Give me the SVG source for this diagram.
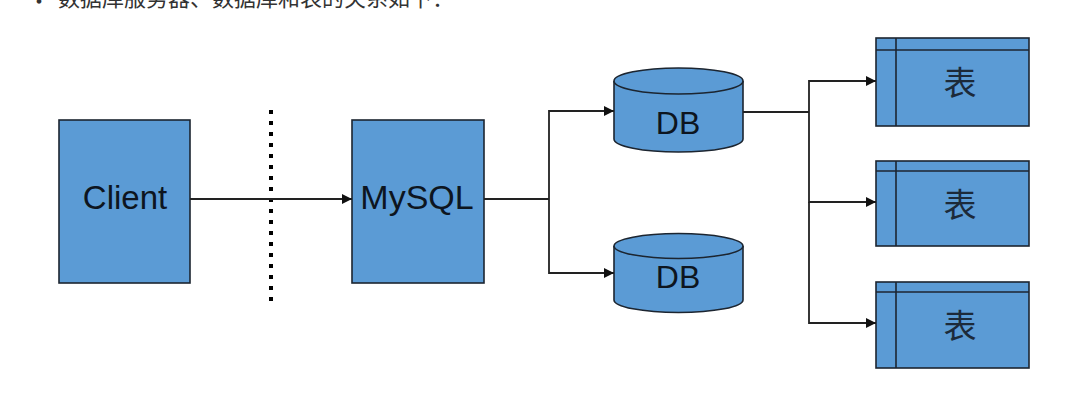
<svg xmlns="http://www.w3.org/2000/svg" width="1065" height="405" viewBox="0 0 1065 405">
<style>
.box{fill:#5b9bd5;stroke:#1c2530;stroke-width:1.6}
.lbl{font-family:"Liberation Sans",Arial,sans-serif;fill:#0d1520;text-anchor:middle}
.cjk{font-family:"Noto Sans CJK SC",sans-serif;fill:#1c2a3a;text-anchor:middle;font-size:33px}
.con{fill:none;stroke:#222;stroke-width:1.8}
.top{font-family:"Noto Sans CJK SC",sans-serif;font-size:22px;fill:#333}
</style>
<defs>
<marker id="arr" viewBox="0 0 10 10" refX="10" refY="5" markerWidth="11" markerHeight="10" markerUnits="userSpaceOnUse" orient="auto">
<path d="M0,0 L10,5 L0,10 z" fill="#111"/>
</marker>
</defs>
<text class="top" x="28" y="9">•</text>
<text class="top" x="58" y="6">数据库服务器、数据库和表的关系如下：</text>

<g id="divider"><line x1="271" y1="110" x2="271" y2="302" stroke="#000" stroke-width="4" stroke-dasharray="4 7"/></g>

<g id="client"><rect class="box" x="59" y="120" width="131" height="163"/><text class="lbl" x="125" y="209" font-size="33">Client</text></g>
<g id="mysql"><rect class="box" x="352" y="120" width="132" height="163"/><text class="lbl" x="417" y="209" font-size="34">MySQL</text></g>

<g id="db1">
<path class="box" d="M614,81 L614,139 A64.5,13 0 0 0 743,139 L743,81"/>
<ellipse class="box" cx="678.5" cy="81" rx="64.5" ry="13"/>
<text class="lbl" x="678" y="134" font-size="32">DB</text>
</g>
<g id="db2">
<path class="box" d="M614,246 L614,300 A64.5,12.5 0 0 0 743,300 L743,246"/>
<ellipse class="box" cx="678.5" cy="246" rx="64.5" ry="12.5"/>
<text class="lbl" x="678" y="288" font-size="32">DB</text>
</g>

<g id="table1"><rect class="box" x="876" y="38" width="153" height="88"/><line class="box" x1="876" y1="50" x2="1029" y2="50"/><line class="box" x1="896" y1="38" x2="896" y2="126"/><text class="cjk" x="960" y="95">表</text></g>
<g id="table2"><rect class="box" x="876" y="161" width="153" height="85"/><line class="box" x1="876" y1="171" x2="1029" y2="171"/><line class="box" x1="896" y1="161" x2="896" y2="246"/><text class="cjk" x="960" y="217">表</text></g>
<g id="table3"><rect class="box" x="876" y="282" width="153" height="86"/><line class="box" x1="876" y1="292" x2="1029" y2="292"/><line class="box" x1="896" y1="282" x2="896" y2="368"/><text class="cjk" x="960" y="338">表</text></g>

<g id="connectors">
<line class="con" x1="190" y1="199" x2="352" y2="199" stroke="#444" marker-end="url(#arr)"/>
<path class="con" d="M484,199 L549,199"/>
<path class="con" d="M549,199 L549,111 L614,111" marker-end="url(#arr)"/>
<path class="con" d="M549,199 L549,273 L614,273" marker-end="url(#arr)"/>
<path class="con" d="M743,112 L809,112"/>
<path class="con" d="M809,112 L809,81 L876,81" marker-end="url(#arr)"/>
<path class="con" d="M809,112 L809,202 L876,202" marker-end="url(#arr)"/>
<path class="con" d="M809,202 L809,323 L876,323" marker-end="url(#arr)"/>
</g>
</svg>
